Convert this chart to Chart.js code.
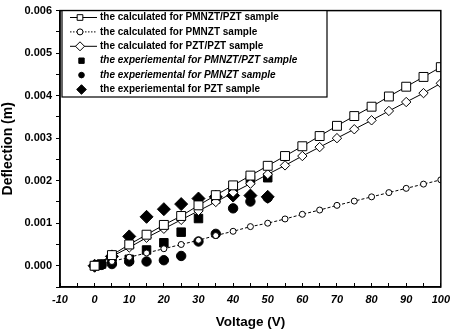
<!DOCTYPE html>
<html>
<head>
<meta charset="utf-8">
<script src="https://cdn.jsdelivr.net/npm/chart.js@4/dist/chart.umd.min.js"></script>
<style>
  html, body { margin: 0; padding: 0; background: #fff; }
  canvas { display: block; }
</style>
</head>
<body>
<canvas id="c" width="460" height="332"></canvas>
<script>
// ---- data ----
const voltsCalc = [0, 5, 10, 15, 20, 25, 30, 35, 40, 45, 50, 55, 60, 65, 70, 75, 80, 85, 90, 95, 100];
const calcPmnztPzt = [0, 0.00025, 0.00050, 0.00073, 0.00096, 0.00117, 0.00142, 0.00166, 0.00189, 0.00212, 0.00235, 0.00258, 0.00281, 0.00305, 0.00329, 0.00352, 0.00374, 0.00398, 0.00421, 0.00444, 0.00467];
const calcPmnzt = [0, 0.00010, 0.00020, 0.00030, 0.00040, 0.00050, 0.00060, 0.00071, 0.00081, 0.00092, 0.00100, 0.00110, 0.00121, 0.00131, 0.00142, 0.00152, 0.00162, 0.00172, 0.00182, 0.00192, 0.00202];
const calcPztPzt = [0, 0.00022, 0.00043, 0.00066, 0.00087, 0.00108, 0.00129, 0.00150, 0.00172, 0.00193, 0.00215, 0.00236, 0.00258, 0.00279, 0.00300, 0.00321, 0.00342, 0.00364, 0.00385, 0.00406, 0.00429];

const voltsExp = [0, 1, 2, 5, 10, 15, 20, 25, 30, 35, 40, 45, 50];
const expPmnztPzt = [0, 0.00002, 0.00004, 0.00015, 0.00015, 0.00037, 0.00054, 0.00079, 0.00111, 0.00157, 0.00178, 0.00202, 0.00207];
const expPmnzt = [0, 0.00001, 0.00002, 0.00004, 0.00010, 0.00010, 0.00013, 0.00023, 0.00057, 0.00075, 0.00135, 0.00151, 0.00160];
const voltsExpPzt = [0, 5, 10, 15, 20, 25, 30, 35, 40, 45, 50];
const expPzt = [0, 0.00022, 0.00069, 0.00115, 0.00133, 0.00145, 0.00158, 0.00162, 0.00165, 0.00165, 0.00162];

const labels = [
  'the calculated for PMNZT/PZT sample',
  'the calculated for PMNZT sample',
  'the calculated for PZT/PZT sample',
  'the experiemental for PMNZT/PZT sample',
  'the experiemental for PMNZT sample',
  'the experiemental for PZT sample'
];
const xTitle = 'Voltage (V)';
const yTitle = 'Deflection (m)';

const pts = (xs, ys) => xs.map((x, i) => ({x: x, y: ys[i]}));
const FONT = '"Liberation Sans", Arial, sans-serif';

// legend appearance per dataset (sample line + marker)
const legendSpec = [
  {line: true, dash: [], style: 'rect', r: 4, fill: '#fff', mx: 80, italic: false},
  {line: true, dash: [1.5, 1.5], style: 'circle', r: 3, fill: '#fff', mx: 80, italic: false},
  {line: true, dash: [], style: 'rectRot', r: 4.5, fill: '#fff', mx: 80, italic: false},
  {line: false, style: 'rect', r: 3.8, fill: '#000', mx: 81.5, italic: true},
  {line: false, style: 'circle', r: 2.8, fill: '#000', mx: 81.5, italic: true},
  {line: false, style: 'rectRot', r: 4.8, fill: '#000', mx: 81.5, italic: false}
];

function marker(ctx, style, x, y, r, fill) {
  ctx.save();
  ctx.setLineDash([]);
  ctx.beginPath();
  if (style === 'rect') {
    const s = Math.SQRT1_2 * r;
    ctx.rect(x - s, y - s, 2 * s, 2 * s);
  } else if (style === 'rectRot') {
    ctx.moveTo(x - r, y); ctx.lineTo(x, y - r); ctx.lineTo(x + r, y); ctx.lineTo(x, y + r); ctx.closePath();
  } else {
    ctx.arc(x, y, r, 0, Math.PI * 2);
  }
  ctx.fillStyle = fill;
  ctx.fill();
  ctx.lineWidth = 1;
  ctx.strokeStyle = '#000';
  ctx.stroke();
  ctx.restore();
}

const framePlugin = {
  id: 'frameLegend',
  afterDraw(chart) {
    const ctx = chart.ctx;
    const a = chart.chartArea;
    ctx.save();
    // plot frame
    ctx.strokeStyle = '#000';
    ctx.lineWidth = 1.5;
    ctx.strokeRect(a.left, a.top, a.right - a.left, a.bottom - a.top);
    // legend box
    const bx = a.left + 2, by = a.top, bw = 327 - bx, bh = 97 - by;
    ctx.fillStyle = '#fff';
    ctx.fillRect(bx, by, bw, bh);
    ctx.lineWidth = 1.2;
    ctx.strokeRect(bx, by, bw, bh);
    chart.data.datasets.forEach((ds, i) => {
      const sp = legendSpec[i];
      const y = 17.5 + i * 14.4;
      if (sp.line) {
        ctx.beginPath();
        ctx.setLineDash(sp.dash);
        ctx.lineWidth = 1;
        ctx.moveTo(70, y); ctx.lineTo(97, y);
        ctx.stroke();
        ctx.setLineDash([]);
      }
      marker(ctx, sp.style, sp.mx, y, sp.r, sp.fill);
      ctx.fillStyle = '#000';
      ctx.font = (sp.italic ? 'italic ' : '') + 'bold 10px ' + FONT;
      ctx.textAlign = 'left';
      ctx.textBaseline = 'middle';
      ctx.fillText(ds.label, 100, y);
    });
    ctx.restore();
  }
};

new Chart(document.getElementById('c'), {
  type: 'scatter',
  data: {
    datasets: [
      {label: labels[0], data: pts(voltsCalc, calcPmnztPzt), showLine: true, borderColor: '#000', borderWidth: 1,
       pointStyle: 'rect', pointRadius: 6.3, pointBackgroundColor: '#fff', pointBorderColor: '#000', pointBorderWidth: 1},
      {label: labels[1], data: pts(voltsCalc, calcPmnzt), showLine: true, borderColor: '#000', borderWidth: 1, borderDash: [3, 2],
       pointStyle: 'circle', pointRadius: 3, pointBackgroundColor: '#fff', pointBorderColor: '#000', pointBorderWidth: 1},
      {label: labels[2], data: pts(voltsCalc, calcPztPzt), showLine: true, borderColor: '#000', borderWidth: 1,
       pointStyle: 'rectRot', pointRadius: 4.7, pointBackgroundColor: '#fff', pointBorderColor: '#000', pointBorderWidth: 1},
      {label: labels[3], data: pts(voltsExp, expPmnztPzt), showLine: false,
       pointStyle: 'rect', pointRadius: 6, pointBackgroundColor: '#000', pointBorderColor: '#000', pointBorderWidth: 1},
      {label: labels[4], data: pts(voltsExp, expPmnzt), showLine: false,
       pointStyle: 'circle', pointRadius: 4.7, pointBackgroundColor: '#000', pointBorderColor: '#000', pointBorderWidth: 1},
      {label: labels[5], data: pts(voltsExpPzt, expPzt), showLine: false,
       pointStyle: 'rectRot', pointRadius: 6.5, pointBackgroundColor: '#000', pointBorderColor: '#000', pointBorderWidth: 1}
    ]
  },
  options: {
    responsive: false,
    animation: false,
    events: [],
    layout: {padding: {top: 5, right: 11, left: 0, bottom: 0}},
    plugins: {legend: {display: false}, tooltip: {enabled: false}},
    scales: {
      x: {
        type: 'linear', min: -10, max: 100,
        ticks: {
          stepSize: 5, autoSkip: false, maxRotation: 0, color: '#000', padding: 10,
          font: {family: FONT, size: 11, weight: 'bold', style: 'italic'},
          callback: v => (Math.round(v) % 10 === 0 ? String(Math.round(v)) : '')
        },
        grid: {drawOnChartArea: false, tickLength: -4, color: '#000', lineWidth: 1},
        border: {color: '#000', width: 1.5},
        title: {display: true, text: xTitle, color: '#000', font: {family: FONT, size: 13.5, weight: 'bold'}, padding: {top: 0, bottom: 2}},
        afterFit: s => { s.height = 45; }
      },
      y: {
        type: 'linear', min: -0.0005, max: 0.006,
        ticks: {
          stepSize: 0.0005, autoSkip: false, color: '#000', padding: 4,
          font: {family: FONT, size: 11, weight: 'bold'},
          callback: v => {
            const k = v * 1000;
            return (Math.abs(k - Math.round(k)) < 1e-6 && k > -0.5) ? Math.abs(v).toFixed(3) : '';
          }
        },
        grid: {drawOnChartArea: false, tickLength: 4, color: '#000', lineWidth: 1},
        border: {color: '#000', width: 1.5},
        title: {display: true, text: yTitle, color: '#000', font: {family: FONT, size: 14, weight: 'bold'}, padding: {top: 0, bottom: 0}},
        afterFit: s => { s.width = 60; }
      }
    }
  },
  plugins: [framePlugin]
});
</script>
</body>
</html>
